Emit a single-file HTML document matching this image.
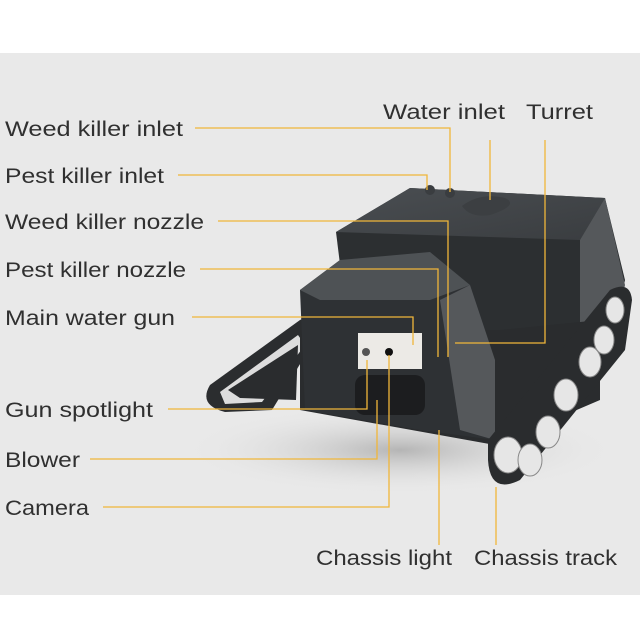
<!DOCTYPE html>
<html><head><style>
body{margin:0;background:#fff}
svg{display:block}
text{font-family:"Liberation Sans",sans-serif;font-size:21px;fill:#303030}
</style></head><body>
<svg width="640" height="640" viewBox="0 0 640 640">
<defs>
<radialGradient id="sh" cx="0.5" cy="0.5" r="0.5"><stop offset="0" stop-color="#b5b5b5"/><stop offset="1" stop-color="#e9e9e9" stop-opacity="0"/></radialGradient>
<linearGradient id="top" x1="0" y1="0" x2="1" y2="1"><stop offset="0" stop-color="#4a4e52"/><stop offset="1" stop-color="#3a3d40"/></linearGradient>
</defs>
<rect x="0" y="0" width="640" height="640" fill="#fff"/>
<rect x="0" y="53" width="640" height="542" fill="#e9e9e9"/>
<ellipse cx="400" cy="450" rx="220" ry="45" fill="url(#sh)"/>
<!-- left track -->
<path d="M210,385 L300,320 Q318,312 322,328 L272,410 L225,412 Q198,405 210,385 Z" fill="#2b2d2f"/>
<path d="M220,392 L298,335 L305,345 L262,402 L225,404 Z" fill="#ddd"/>
<path d="M228,390 L298,345 L296,400 L240,398 Z" fill="#2a2c2e"/>
<!-- rear box -->
<polygon points="336,232 410,188 605,198 625,280 612,345 350,345" fill="#2c2f31"/>
<polygon points="336,232 410,188 605,198 580,240" fill="url(#top)"/>
<polygon points="580,240 605,198 625,285 612,345 580,340" fill="#55585b"/>
<!-- chassis -->
<polygon points="300,330 500,330 600,320 600,400 495,445 300,410" fill="#2a2c2e"/>
<!-- front box -->
<polygon points="300,290 340,260 430,252 470,285 495,360 495,440 420,430 305,410" fill="#2e3134"/>
<polygon points="300,290 340,260 430,252 470,285 430,300 320,300" fill="#4e5255"/>
<polygon points="470,285 495,360 495,440 460,430 440,300" fill="#55585b"/>
<rect x="358" y="333" width="64" height="36" fill="#eceae6"/>
<circle cx="366" cy="352" r="4" fill="#555"/><circle cx="389" cy="352" r="4" fill="#111"/>
<rect x="355" y="375" width="70" height="40" rx="10" fill="#1c1d1f"/>
<circle cx="430" cy="190" r="5" fill="#3a3d40"/><circle cx="450" cy="193" r="5" fill="#3a3d40"/>
<path d="M462,206 Q480,192 505,198 Q520,205 490,215 Q470,218 462,206 Z" fill="#3c3f42"/>
<!-- right track -->
<path d="M488,440 L610,290 Q630,280 632,300 L625,350 L520,480 Q490,495 488,460 Z" fill="#2a2c2e"/>
<g fill="#e6e6e6" stroke="#888" stroke-width="1">
<ellipse cx="508" cy="455" rx="14" ry="18"/><ellipse cx="530" cy="460" rx="12" ry="16"/>
<ellipse cx="548" cy="432" rx="12" ry="16"/><ellipse cx="566" cy="395" rx="12" ry="16"/>
<ellipse cx="590" cy="362" rx="11" ry="15"/><ellipse cx="604" cy="340" rx="10" ry="14"/>
<ellipse cx="615" cy="310" rx="9" ry="13"/>
</g>
<!-- connectors -->
<g stroke="#f0b63a" stroke-width="1.3" fill="none">
<polyline points="195,128 450,128 450,192"/>
<polyline points="178,175 427,175 427,190"/>
<polyline points="490,140 490,200"/>
<polyline points="545,140 545,343 455,343"/>
<polyline points="218,221 448,221 448,357"/>
<polyline points="200,269 438,269 438,357"/>
<polyline points="192,317 413,317 413,345"/>
<polyline points="168,409 367,409 367,360"/>
<polyline points="90,459 377,459 377,400"/>
<polyline points="103,507 389,507 389,355"/>
<polyline points="439,430 439,545"/>
<polyline points="496,487 496,545"/>
</g>
<text x="5" y="136" textLength="178" lengthAdjust="spacingAndGlyphs">Weed killer inlet</text>
<text x="5" y="183" textLength="159" lengthAdjust="spacingAndGlyphs">Pest killer inlet</text>
<text x="5" y="229" textLength="199" lengthAdjust="spacingAndGlyphs">Weed killer nozzle</text>
<text x="5" y="277" textLength="181" lengthAdjust="spacingAndGlyphs">Pest killer nozzle</text>
<text x="5" y="325" textLength="170" lengthAdjust="spacingAndGlyphs">Main water gun</text>
<text x="5" y="417" textLength="148" lengthAdjust="spacingAndGlyphs">Gun spotlight</text>
<text x="5" y="467" textLength="75" lengthAdjust="spacingAndGlyphs">Blower</text>
<text x="5" y="515" textLength="84" lengthAdjust="spacingAndGlyphs">Camera</text>
<text x="383" y="119" textLength="122" lengthAdjust="spacingAndGlyphs">Water inlet</text>
<text x="526" y="119" textLength="67" lengthAdjust="spacingAndGlyphs">Turret</text>
<text x="316" y="565" textLength="136" lengthAdjust="spacingAndGlyphs">Chassis light</text>
<text x="474" y="565" textLength="143" lengthAdjust="spacingAndGlyphs">Chassis track</text>
</svg>
</body></html>
